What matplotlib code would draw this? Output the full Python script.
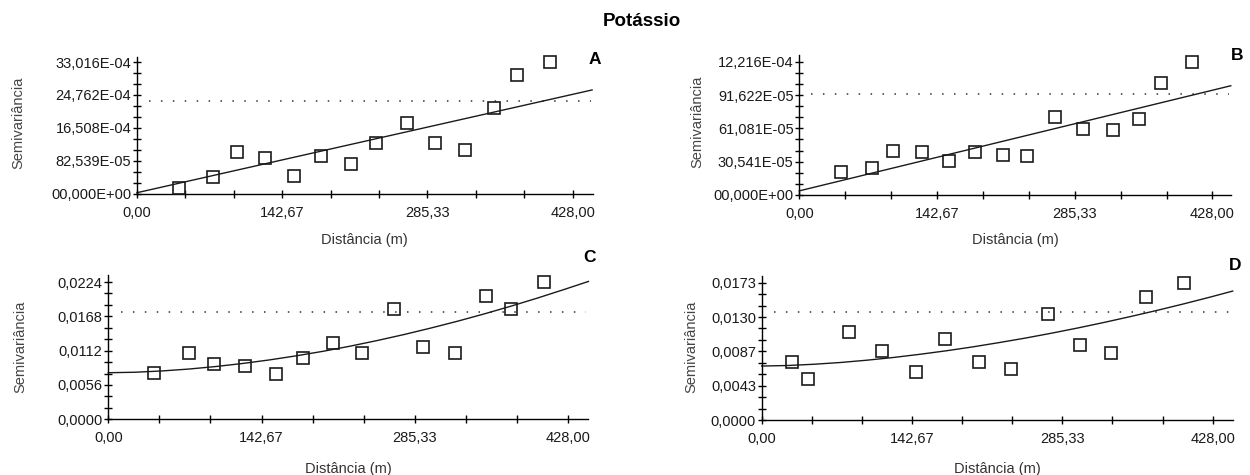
import matplotlib
matplotlib.use("Agg")
import matplotlib.pyplot as plt
from matplotlib.ticker import FixedLocator, FixedFormatter

plt.rcParams['font.family'] = ['Liberation Sans', 'DejaVu Sans']

W, H = 1250, 475

# ---------------- data ----------------
xticks_vals = [0.0, 142.67, 285.33, 428.0]
xticks_lbls = ['0,00', '142,67', '285,33', '428,00']

# Panel A
a_h = [41.2, 74.5, 98.5, 125.5, 154.2, 181.2, 209.9, 235.0, 265.6, 292.7, 322.5, 351.1, 373.5, 406.0]
a_g = [0.000139, 0.000424, 0.001035, 0.000897, 0.000440, 0.000946, 0.000734, 0.001272,
       0.001769, 0.001272, 0.001101, 0.002136, 0.002976, 0.003302]
a_model_h = [0.0, 447.0]
a_model_g = [0.00002, 0.00260]
a_sill = 0.00233
a_yticks = [0.0, 0.00082539, 0.0016508, 0.0024762, 0.0033016]
a_ylbls = ['00,000E+00', '82,539E-05', '16,508E-04', '24,762E-04', '33,016E-04']

# Panel B
b_h = [42.9, 75.1, 97.2, 126.6, 155.2, 181.7, 211.1, 236.0, 264.6, 294.0, 324.6, 352.4, 374.4, 406.3]
b_g = [0.000212, 0.000250, 0.000406, 0.000397, 0.000309, 0.000397, 0.000368, 0.000359,
       0.000715, 0.000603, 0.000595, 0.000700, 0.001024, 0.001222]
b_model_h = [0.0, 447.0]
b_model_g = [0.000038, 0.001001]
b_sill = 0.000921
b_yticks = [0.0, 0.00030541, 0.00061081, 0.00091622, 0.0012216]
b_ylbls = ['00,000E+00', '30,541E-05', '61,081E-05', '91,622E-05', '12,216E-04']

# Panel C
c_h = [42.4, 75.5, 98.6, 127.3, 156.3, 181.2, 209.5, 236.3, 266.1, 293.3, 322.7, 351.7, 375.1, 405.7]
c_g = [0.00759, 0.01074, 0.00895, 0.00868, 0.00732, 0.01003, 0.01247, 0.01074,
       0.01801, 0.01182, 0.01074, 0.02018, 0.01806, 0.02240]
c_model_h = [0, 25, 50, 75, 100, 125, 150, 175, 200, 225, 250, 275, 300, 325, 350, 375, 400, 425, 447]
c_model_g = [0.00760, 0.00768, 0.00789, 0.00820, 0.00861, 0.00911, 0.00969, 0.01036, 0.01110,
             0.01193, 0.01284, 0.01382, 0.01488, 0.01600, 0.01720, 0.01847, 0.01981, 0.02122, 0.02250]
c_sill = 0.01750
c_yticks = [0.0, 0.0056, 0.0112, 0.0168, 0.0224]
c_ylbls = ['0,0000', '0,0056', '0,0112', '0,0168', '0,0224']

# Panel D
d_h = [28.4, 44.2, 83.2, 114.6, 146.3, 173.9, 206.0, 237.0, 271.8, 302.5, 331.6, 364.5, 401.1]
d_g = [0.00735, 0.00516, 0.01104, 0.00873, 0.00605, 0.01016, 0.00726, 0.00642,
       0.01335, 0.00945, 0.00840, 0.01554, 0.01730]
d_model_h = [0, 25, 50, 75, 100, 125, 150, 175, 200, 225, 250, 275, 300, 325, 350, 375, 400, 425, 447]
d_model_g = [0.00680, 0.00687, 0.00703, 0.00725, 0.00754, 0.00788, 0.00828, 0.00872, 0.00921,
             0.00975, 0.01032, 0.01094, 0.01160, 0.01230, 0.01304, 0.01381, 0.01462, 0.01547, 0.01625]
d_sill = 0.01360
d_yticks = [0.0, 0.004325, 0.00865, 0.012975, 0.0173]
d_ylbls = ['0,0000', '0,0043', '0,0087', '0,0130', '0,0173']

# ---------------- layout (pixels) ----------------
panels = [
    dict(box=(137, 592.7, 56.5, 193.5), ymax=0.00344, xmax=447.6,
         h=a_h, g=a_g, mh=a_model_h, mg=a_model_g, sill=a_sill,
         yt=a_yticks, yl=a_ylbls, letter='A', lpos=(595, 59), ylab=(18, 123), xlab_y=240),
    dict(box=(799.3, 1231, 55.3, 195), ymax=0.00128, xmax=447.2,
         h=b_h, g=b_g, mh=b_model_h, mg=b_model_g, sill=b_sill,
         yt=b_yticks, yl=b_ylbls, letter='B', lpos=(1237, 55), ylab=(697, 122), xlab_y=240),
    dict(box=(108.3, 588, 275.3, 419.3), ymax=0.0235, xmax=446.6,
         h=c_h, g=c_g, mh=c_model_h, mg=c_model_g, sill=c_sill,
         yt=c_yticks, yl=c_ylbls, letter='C', lpos=(590, 257), ylab=(20, 347), xlab_y=469),
    dict(box=(761.7, 1232.6, 276.4, 420), ymax=0.0181, xmax=446.9,
         h=d_h, g=d_g, mh=d_model_h, mg=d_model_g, sill=d_sill,
         yt=d_yticks, yl=d_ylbls, letter='D', lpos=(1235, 265), ylab=(691, 347), xlab_y=469),
]

fig = plt.figure(figsize=(W / 100, H / 100), dpi=100)
fig.text(642 / W, 1 - 21 / H, 'Potássio', ha='center', va='center',
         fontsize=13.5, fontweight='bold')

for p in panels:
    l, r, t, b = p['box']
    ax = fig.add_axes([l / W, 1 - b / H, (r - l) / W, (b - t) / H])
    ax.set_xlim(0, p['xmax'])
    ax.set_ylim(0, p['ymax'])
    for s in ['top', 'right']:
        ax.spines[s].set_visible(False)
    for s in ['left', 'bottom']:
        ax.spines[s].set_linewidth(1.0)
        ax.spines[s].set_color('black')
    ax.patch.set_alpha(0)

    ax.plot(p['h'], p['g'], linestyle='none', marker='s', markersize=8.6,
            markerfacecolor='none', markeredgecolor='#1a1a1a', markeredgewidth=1.2,
            clip_on=False, zorder=3)
    ax.plot(p['mh'], p['mg'], color='#1a1a1a', linewidth=1.0, clip_on=False, zorder=2)
    ax.plot([12, p['xmax'] - 2], [p['sill'], p['sill']], color='#333333',
            linewidth=1.1, linestyle=(0, (1, 6.8)), zorder=1)

    ax.xaxis.set_major_locator(FixedLocator(xticks_vals))
    ax.xaxis.set_major_formatter(FixedFormatter(xticks_lbls))
    ax.xaxis.set_minor_locator(FixedLocator([47.56, 95.11, 190.22, 237.78, 332.89, 380.44]))
    ax.yaxis.set_major_locator(FixedLocator(p['yt']))
    ax.yaxis.set_major_formatter(FixedFormatter(p['yl']))
    step = p['yt'][1] / 3
    ax.yaxis.set_minor_locator(FixedLocator([k * step for k in range(1, 13) if k % 3 != 0]))

    ax.tick_params(which='both', direction='inout', length=5.3, width=1.0, color='black')
    ax.tick_params(axis='x', which='major', pad=6, labelsize=10.5, labelcolor='#1a1a1a')
    ax.tick_params(axis='y', which='major', pad=1.5, labelsize=10.5, labelcolor='#1a1a1a')

    fig.text(p['ylab'][0] / W, 1 - p['ylab'][1] / H, 'Semivariância', rotation=90,
             ha='center', va='center', fontsize=10.5, color='#444444')
    fig.text((l + r) / 2 / W, 1 - p['xlab_y'] / H, 'Distância (m)',
             ha='center', va='center', fontsize=10.5, color='#333333')
    fig.text(p['lpos'][0] / W, 1 - p['lpos'][1] / H, p['letter'], ha='center', va='center',
             fontsize=12.5, fontweight='bold')

fig.savefig('out.png', dpi=100)
